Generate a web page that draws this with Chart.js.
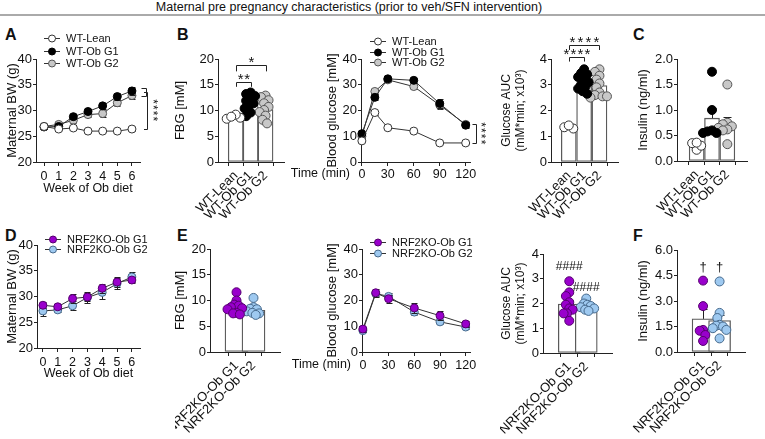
<!DOCTYPE html>
<html>
<head>
<meta charset="utf-8">
<script src="https://cdn.jsdelivr.net/npm/chart.js@4.4.1/dist/chart.umd.min.js"></script>
<style>
  body { margin: 0; background: #fff; }
  #fig { position: relative; width: 765px; height: 439px; overflow: hidden; font-family: "Liberation Sans", Arial, sans-serif; color: #111; }
  #fig canvas { position: absolute; }
  .letter { position: absolute; font-weight: bold; font-size: 16px; line-height: 16px; }
  #title { position: absolute; left: 0; width: 698px; top: 0; text-align: center; font-size: 12.5px; line-height: 14px; }
  #rule { position: absolute; left: 0; top: 14px; width: 765px; height: 2px; background: #aaa; }
</style>
</head>
<body>
<div id="fig">
  <div id="title">Maternal pre pregnancy characteristics (prior to veh/SFN intervention)</div>
  <div id="rule"></div>
  <div class="letter" style="left:5px;top:27px">A</div>
  <div class="letter" style="left:177px;top:27px">B</div>
  <div class="letter" style="left:633px;top:27px">C</div>
  <div class="letter" style="left:5px;top:228px">D</div>
  <div class="letter" style="left:177px;top:228px">E</div>
  <div class="letter" style="left:633px;top:228px">F</div>
</div>
<script>
const TXT = '#111', AX = '#222', LINE = '#333', BAR = '#5a5a5a';
const FONT = '"Liberation Sans", Arial, sans-serif';
Chart.defaults.font.family = FONT;
Chart.defaults.color = TXT;

// ---- body weight over the obesogenic diet (A, D) ----
const weeks = [0, 1, 2, 3, 4, 5, 6];
const bwWtLean    = [26.9, 26.4, 26.6, 26.0, 26.0, 26.0, 26.4];
const bwWtLeanSem = [0.3, 0.2, 0.2, 0.2, 0.2, 0.2, 0.3];
const bwWtObG1    = [26.8, 26.9, 28.8, 29.8, 30.9, 32.7, 33.8];
const bwWtObG1Sem = [0.4, 0.4, 0.5, 0.5, 0.6, 0.7, 0.8];
const bwWtObG2    = [26.9, 27.3, 28.1, 29.2, 29.4, 31.5, 32.9];
const bwWtObG2Sem = [0.4, 0.4, 0.5, 0.5, 0.6, 0.6, 0.6];
const bwNrfG1     = [28.3, 28.0, 29.6, 29.9, 31.6, 32.8, 33.2];
const bwNrfG1Sem  = [0.6, 0.5, 0.8, 0.8, 0.9, 0.9, 0.6];
const bwNrfG2     = [27.2, 27.4, 28.2, 29.8, 30.8, 32.5, 33.8];
const bwNrfG2Sem  = [1.0, 0.5, 0.9, 1.0, 1.3, 1.0, 1.0];

// ---- glucose tolerance test (B, E) ----
const gttTimes = [0, 15, 30, 60, 90, 120];
const gttTicks = [0, 30, 60, 90, 120];
const gttWtLean    = [8.2, 19.2, 13.3, 12.0, 7.4, 7.4];
const gttWtLeanSem = [0.3, 0.8, 0.6, 0.5, 0.3, 0.3];
const gttWtObG1    = [11.0, 25.1, 32.3, 31.7, 22.7, 14.3];
const gttWtObG1Sem = [0.6, 1.2, 0.7, 0.9, 1.6, 1.2];
const gttWtObG2    = [10.0, 27.4, 31.9, 29.3, 22.1, 14.6];
const gttWtObG2Sem = [0.5, 1.0, 0.8, 1.0, 1.4, 1.0];
const gttNrfG1     = [8.9, 23.0, 20.7, 17.1, 14.1, 10.9];
const gttNrfG1Sem  = [1.0, 1.5, 1.5, 1.8, 1.8, 1.1];
const gttNrfG2     = [8.3, 22.7, 21.6, 15.5, 11.7, 9.7];
const gttNrfG2Sem  = [0.6, 1.0, 1.2, 1.0, 0.8, 0.7];

// ---- group bar charts ----
const wtGroups  = ['WT-Lean', 'WT-Ob G1', 'WT-Ob G2'];
const nrfGroups = ['NRF2KO-Ob G1', 'NRF2KO-Ob G2'];

const fbgWtMean = [8.7, 11.4, 10.2];
const fbgWtSem  = [0.2, 0.45, 0.55];
const fbgWtLean = [8.4, 8.6, 9.2, 8.8];
const fbgWtObG1 = [13.5, 13.2, 12.8, 12.3, 11.9, 11.4, 11.0, 10.4, 9.6, 8.9];
const fbgWtObG2 = [12.9, 12.6, 12.0, 11.4, 10.7, 10.1, 9.7, 9.0, 8.2, 7.5];

const aucWtMean = [1.33, 3.06, 2.97];
const aucWtSem  = [0.04, 0.09, 0.12];
const aucWtLean = [1.3, 1.35, 1.42];
const aucWtObG1 = [3.6, 3.45, 3.4, 3.3, 3.2, 3.1, 3.0, 2.95, 2.85, 2.75, 2.65];
const aucWtObG2 = [3.6, 3.5, 3.35, 3.2, 3.05, 2.9, 2.7, 2.6, 2.55, 2.5, 2.55];

const insWtMean = [0.31, 0.84, 0.71];
const insWtSem  = [0.04, 0.19, 0.15];
const insWtLean = [0.22, 0.3, 0.35, 0.36];
const insWtObG1 = [1.75, 1.0, 0.6, 0.55, 0.55, 0.58];
const insWtObG2 = [1.5, 0.75, 0.72, 0.68, 0.65, 0.62, 0.6, 0.33];

const fbgNrfMean = [8.8, 8.1];
const fbgNrfSem  = [0.45, 0.35];
const fbgNrfG1 = [11.6, 10.0, 9.2, 9.0, 8.7, 8.5, 8.3, 7.6, 7.5, 7.3];
const fbgNrfG2 = [10.5, 8.7, 8.4, 8.3, 7.9, 7.6, 7.5, 7.2];

const aucNrfMean = [1.98, 1.86];
const aucNrfSem  = [0.15, 0.06];
const aucNrfG1 = [2.9, 2.45, 2.3, 2.05, 1.95, 1.8, 1.75, 1.6, 1.6, 1.3];
const aucNrfG2 = [2.2, 2.0, 1.95, 1.9, 1.85, 1.8, 1.75, 1.7];

const insNrfMean = [1.95, 1.85];
const insNrfSem  = [0.6, 0.35];
const insNrfG1 = [4.2, 2.7, 1.3, 1.25, 1.0, 0.65];
const insNrfG2 = [4.15, 2.3, 2.0, 1.6, 1.55, 1.5, 1.4, 1.3, 0.8];

// group colours
const C_LEAN = {fill: '#ffffff', stroke: '#333333'};
const C_OB1  = {fill: '#000000', stroke: '#000000'};
const C_OB2  = {fill: '#c8c8c8', stroke: '#555555'};
const C_NRF1 = {fill: '#9900cc', stroke: '#55006e'};
const C_NRF2 = {fill: '#9ec9f0', stroke: '#46698c'};

// ---- helpers ----
const errorBars = {
  id: 'errorBars',
  beforeDatasetDraw(chart, args) { drawErr(chart, args.index, false); },
  afterDatasetDraw(chart, args) { drawErr(chart, args.index, true); }
};

function drawErr(chart, i, afterBar) {
  const ds = chart.data.datasets[i];
  if (!ds.sem || (ds.type === 'bar') !== afterBar) return;
  const ctx = chart.ctx, xs = chart.scales.x, ys = chart.scales.y;
  ctx.save();
  ctx.strokeStyle = AX;
  ctx.lineWidth = 1;
  ds.data.forEach((d, k) => {
    const px = Math.round(xs.getPixelForValue(d.x)) + 0.5;
    const hi = Math.round(ys.getPixelForValue(d.y + ds.sem[k])) + 0.5;
    const lo = afterBar ? ys.getPixelForValue(d.y) : Math.round(ys.getPixelForValue(d.y - ds.sem[k])) + 0.5;
    const cap = afterBar ? 4 : 3;
    ctx.beginPath();
    ctx.moveTo(px, hi); ctx.lineTo(px, lo);
    ctx.moveTo(px - cap, hi); ctx.lineTo(px + cap, hi);
    if (!afterBar) { ctx.moveTo(px - cap, lo); ctx.lineTo(px + cap, lo); }
    ctx.stroke();
  });
  ctx.restore();
}

function spaced(ctx, text, cx, cy, size, step, rot) {
  ctx.save();
  ctx.translate(cx, cy);
  ctx.rotate(rot || 0);
  ctx.font = size + 'px ' + FONT;
  ctx.fillStyle = TXT;
  ctx.textAlign = 'center';
  ctx.textBaseline = 'middle';
  const n = text.length;
  for (let i = 0; i < n; i++) ctx.fillText(text[i], (i - (n - 1) / 2) * step, 0);
  ctx.restore();
}

function annot(p) {
  return {
    id: 'annot',
    afterDraw(chart) {
      const {ctx, chartArea: a} = chart;
      const X = v => chart.scales.x.getPixelForValue(v);
      const Y = v => chart.scales.y.getPixelForValue(v);
      ctx.save();
      ctx.lineWidth = 1;
      ctx.strokeStyle = AX;
      (p.brackets || []).forEach(b => {
        const x1 = Math.round(X(b.a)) + 0.5, x2 = Math.round(X(b.b)) + 0.5;
        const yt = Math.round(Y(b.y)) + 0.5, yl = Y(b.leg);
        ctx.beginPath();
        ctx.moveTo(x1, yl); ctx.lineTo(x1, yt); ctx.lineTo(x2, yt); ctx.lineTo(x2, yl);
        ctx.stroke();
        spaced(ctx, b.text, (x1 + x2) / 2, yt - 2.5, 15, b.step || 6.5);
      });
      (p.side || []).forEach(s => {
        const x0 = a.right + s.x0, x1 = Math.round(a.right + s.x1) + 0.5;
        const y1 = Math.round(Y(s.y1)) + 0.5, y2 = Math.round(Y(s.y2)) + 0.5;
        ctx.beginPath();
        ctx.moveTo(x0, y1); ctx.lineTo(x1, y1); ctx.lineTo(x1, y2); ctx.lineTo(x0, y2);
        ctx.stroke();
      });
      if (p.sideText) {
        const t = p.sideText;
        spaced(ctx, t.text, a.right + t.dx, Y(t.y), t.size, t.step, Math.PI / 2);
      }
      (p.texts || []).forEach(t => spaced(ctx, t.text, X(t.x), Y(t.y), t.size, t.step));
      if (p.timeLabel) {
        ctx.font = '12.5px ' + FONT;
        ctx.fillStyle = TXT;
        ctx.textAlign = 'right';
        ctx.textBaseline = 'middle';
        ctx.fillText('Time (min)', a.left + p.timeLabel.dx, a.bottom + p.timeLabel.dy);
      }
      if (p.legend) {
        const lg = p.legend;
        ctx.font = '11px ' + FONT;
        ctx.textBaseline = 'middle';
        ctx.textAlign = 'left';
        p.series.forEach((s, k) => {
          const x = a.left + lg.dx, y = Math.round(a.top + lg.dy + k * lg.rowH) + 0.5;
          ctx.strokeStyle = LINE;
          ctx.beginPath(); ctx.moveTo(x - 8, y); ctx.lineTo(x + 8, y); ctx.stroke();
          ctx.beginPath(); ctx.arc(x, y, 3.5, 0, Math.PI * 2);
          ctx.fillStyle = s.color.fill; ctx.fill();
          ctx.strokeStyle = s.color.stroke; ctx.stroke();
          ctx.fillStyle = TXT;
          ctx.fillText(s.label, x + 14, y);
        });
      }
      ctx.restore();
    }
  };
}

// spread the dots of one group sideways so they do not pile up
function swarm(vals, center, p, r) {
  const pxX = (p.area.r - p.area.l) / (p.xMax - p.xMin);
  const pxY = (p.area.b - p.area.t) / (p.yMax - p.yMin);
  const placed = [], out = [];
  const idx = vals.map((v, i) => i).sort((a, b) => vals[b] - vals[a]);
  idx.forEach(i => {
    const yp = vals[i] * pxY;
    let off = 0;
    for (let k = 0; k < 40; k++) {
      const cand = (k % 2 ? -1 : 1) * Math.ceil(k / 2) * r * 0.5;
      if (placed.every(q => Math.hypot(q.x - cand, q.y - yp) >= r * 1.3)) { off = cand; break; }
    }
    placed.push({x: off, y: yp});
    out[i] = {x: center + off / pxX, y: vals[i]};
  });
  return out;
}

function axisBase() {
  return {
    type: 'linear',
    bounds: 'data',
    grid: {drawOnChartArea: false, drawTicks: true, tickLength: 4, color: AX, lineWidth: 1},
    border: {display: true, color: AX, width: 1}
  };
}

function makePanel(p, datasets) {
  const c = document.createElement('canvas');
  const w = p.canvas.r - p.canvas.l, h = p.canvas.b - p.canvas.t;
  c.width = w; c.height = h;
  Object.assign(c.style, {left: p.canvas.l + 'px', top: p.canvas.t + 'px', width: w + 'px', height: h + 'px'});
  if (p.clipLeft) c.style.clipPath = 'inset(0 0 0 ' + p.clipLeft + 'px)';
  document.getElementById('fig').appendChild(c);

  const yw = p.area.l - p.canvas.l, xh = p.canvas.b - p.area.b;
  const ySize = p.yTitleSize || 13, yLh = ySize * 1.15;
  const xLh = 12.5 * 1.15;

  const x = Object.assign(axisBase(), {
    min: p.xMin, max: p.xMax,
    afterBuildTicks: s => { s.ticks = p.xTicks.map(v => ({value: v})); },
    ticks: {
      font: {size: p.cats ? 13 : 12.5}, color: TXT, padding: p.xTickPad, autoSkip: false,
      minRotation: p.rot || 0, maxRotation: p.rot || 0,
      callback: p.cats ? (v => p.cats[v]) : (v => v)
    },
    title: p.xTitle ? {display: true, text: p.xTitle, color: TXT, font: {size: 12.5, lineHeight: 1.15},
      padding: {top: 0, bottom: p.canvas.b - p.xTitleY - xLh / 2}} : {display: false},
    afterFit: s => { s.height = xh; s.paddingLeft = 0; s.paddingRight = 0; }
  });
  const y = Object.assign(axisBase(), {
    min: p.yMin, max: p.yMax,
    afterBuildTicks: s => { s.ticks = p.yTicks.map(v => ({value: v})); },
    ticks: {font: {size: 13}, color: TXT, padding: 1, callback: p.yFmt || (v => v)},
    title: {display: true, text: p.yTitle, color: TXT, font: {size: ySize, lineHeight: 1.15},
      padding: {top: p.yTitleX - p.canvas.l - yLh / 2, bottom: 0}},
    afterFit: s => { s.width = yw; s.paddingTop = 0; s.paddingBottom = 0; }
  });
  y.grid.tickLength = 3;

  new Chart(c, {
    type: 'scatter',
    data: {datasets},
    options: {
      responsive: false,
      animation: false,
      events: [],
      layout: {autoPadding: false, padding: {left: 0, top: p.area.t - p.canvas.t, right: p.canvas.r - p.area.r, bottom: 0}},
      plugins: {legend: {display: false}, tooltip: {enabled: false}},
      scales: {x, y}
    },
    plugins: [errorBars, annot(p)]
  });
}

function linePanel(p) {
  const datasets = p.series.map(s => ({
    data: s.xs.map((v, i) => ({x: v, y: s.ys[i]})),
    sem: s.sem,
    showLine: true,
    borderColor: LINE,
    borderWidth: 1,
    backgroundColor: s.color.fill,
    pointRadius: 4,
    pointBackgroundColor: s.color.fill,
    pointBorderColor: s.color.stroke,
    pointBorderWidth: 1,
    clip: false
  }));
  makePanel(p, datasets);
}

function barPanel(p) {
  p.xTicks = p.cats.map((c, i) => i);
  p.rot = 45;
  const datasets = p.groups.map((g, i) => ({
    data: swarm(g.pts, i, p, 4.5),
    backgroundColor: g.color.fill,
    borderColor: g.color.stroke,
    borderWidth: 1,
    pointRadius: 4.5,
    clip: false,
    order: 1
  }));
  datasets.push({
    type: 'bar',
    data: p.means.map((m, i) => ({x: i, y: m})),
    sem: p.sems,
    backgroundColor: '#ffffff',
    borderColor: BAR,
    borderWidth: 1.3,
    borderSkipped: false,
    barThickness: p.barW,
    grouped: false,
    clip: false,
    order: 2
  });
  makePanel(p, datasets);
}

// ---- A ----
linePanel({
  area: {l: 36, t: 59, r: 140, b: 162}, canvas: {l: 0, t: 26, r: 172, b: 200},
  xMin: -0.55, xMax: 6.55, xTicks: weeks, xTickPad: 3, xTitle: 'Week of Ob diet', xTitleY: 189,
  yMin: 20, yMax: 40, yTicks: [20, 25, 30, 35, 40], yTitle: 'Maternal BW (g)', yTitleX: 12,
  series: [
    {label: 'WT-Lean', xs: weeks, ys: bwWtLean, sem: bwWtLeanSem, color: C_LEAN},
    {label: 'WT-Ob G1', xs: weeks, ys: bwWtObG1, sem: bwWtObG1Sem, color: C_OB1},
    {label: 'WT-Ob G2', xs: weeks, ys: bwWtObG2, sem: bwWtObG2Sem, color: C_OB2}
  ],
  legend: {dx: 16, dy: -20.7, rowH: 12.3},
  side: [{x0: 1.5, x1: 5.5, y1: 34.3, y2: 32.9}, {x0: 4, x1: 7, y1: 33.6, y2: 26.5}],
  sideText: {dx: 12.5, y: 30.05, text: '****', size: 12, step: 5.8}
});

// ---- B: FBG ----
barPanel({
  area: {l: 218, t: 59, r: 284, b: 162}, canvas: {l: 170, t: 36, r: 300, b: 232},
  cats: wtGroups, xMin: -0.45, xMax: 2.5, xTickPad: 2, barW: 15,
  yMin: 0, yMax: 20, yTicks: [0, 5, 10, 15, 20], yTitle: 'FBG [mM]', yTitleX: 180,
  means: fbgWtMean, sems: fbgWtSem,
  groups: [{pts: fbgWtLean, color: C_LEAN}, {pts: fbgWtObG1, color: C_OB1}, {pts: fbgWtObG2, color: C_OB2}],
  brackets: [{a: 0, b: 1, y: 15.6, leg: 14.6, text: '**'}, {a: 0, b: 2, y: 18.75, leg: 17.6, text: '*'}]
});

// ---- B: GTT ----
linePanel({
  area: {l: 361, t: 59, r: 470, b: 162}, canvas: {l: 285, t: 30, r: 492, b: 200},
  xMin: -1, xMax: 125, xTicks: gttTicks, xTickPad: 1.5,
  yMin: 0, yMax: 40, yTicks: [0, 10, 20, 30, 40], yTitle: 'Blood glucose [mM]', yTitleX: 332,
  series: [
    {label: 'WT-Lean', xs: gttTimes, ys: gttWtLean, sem: gttWtLeanSem, color: C_LEAN},
    {label: 'WT-Ob G1', xs: gttTimes, ys: gttWtObG1, sem: gttWtObG1Sem, color: C_OB1},
    {label: 'WT-Ob G2', xs: gttTimes, ys: gttWtObG2, sem: gttWtObG2Sem, color: C_OB2}
  ],
  legend: {dx: 17, dy: -18.3, rowH: 10.8},
  timeLabel: {dx: -11, dy: 11.5},
  side: [{x0: 2.5, x1: 6, y1: 14.8, y2: 7.5}],
  sideText: {dx: 10.5, y: 11.15, text: '****', size: 12, step: 5.8}
});

// ---- B: glucose AUC ----
barPanel({
  area: {l: 551, t: 59, r: 618, b: 162}, canvas: {l: 498, t: 30, r: 628, b: 232},
  cats: wtGroups, xMin: -0.43, xMax: 2.48, xTickPad: 2, barW: 15,
  yMin: 0, yMax: 4, yTicks: [0, 1, 2, 3, 4], yTitle: ['Glucose AUC', '(mM*min; x10³)'], yTitleX: 507, yTitleSize: 12,
  means: aucWtMean, sems: aucWtSem,
  groups: [{pts: aucWtLean, color: C_LEAN}, {pts: aucWtObG1, color: C_OB1}, {pts: aucWtObG2, color: C_OB2}],
  brackets: [{a: 0, b: 1, y: 4.09, leg: 3.9, text: '****', step: 7}, {a: 0, b: 2, y: 4.55, leg: 4.35, text: '****', step: 8}]
});

// ---- C: insulin ----
barPanel({
  area: {l: 677, t: 59, r: 747, b: 161}, canvas: {l: 625, t: 36, r: 765, b: 232},
  cats: wtGroups, xMin: -0.52, xMax: 2.52, xTickPad: 2, barW: 15,
  yMin: 0, yMax: 2, yTicks: [0, 0.5, 1, 1.5, 2], yFmt: v => v.toFixed(1), yTitle: 'Insulin (ng/ml)', yTitleX: 643,
  means: insWtMean, sems: insWtSem,
  groups: [{pts: insWtLean, color: C_LEAN}, {pts: insWtObG1, color: C_OB1}, {pts: insWtObG2, color: C_OB2}]
});

// ---- D ----
linePanel({
  area: {l: 37, t: 245, r: 140, b: 348}, canvas: {l: 0, t: 226, r: 172, b: 392},
  xMin: -0.4, xMax: 6.55, xTicks: weeks, xTickPad: 3, xTitle: 'Week of Ob diet', xTitleY: 374,
  yMin: 20, yMax: 40, yTicks: [20, 25, 30, 35, 40], yTitle: 'Maternal BW (g)', yTitleX: 12,
  series: [
    {label: 'NRF2KO-Ob G1', xs: weeks, ys: bwNrfG1, sem: bwNrfG1Sem, color: C_NRF1},
    {label: 'NRF2KO-Ob G2', xs: weeks, ys: bwNrfG2, sem: bwNrfG2Sem, color: C_NRF2}
  ],
  legend: {dx: 16, dy: -6, rowH: 10}
});

// ---- E: FBG ----
barPanel({
  area: {l: 210, t: 249, r: 280, b: 352}, canvas: {l: 172, t: 228, r: 300, b: 439}, clipLeft: 3,
  cats: nrfGroups, xMin: -0.53, xMax: 1.53, xTickPad: 2, barW: 23,
  yMin: 0, yMax: 20, yTicks: [0, 5, 10, 15, 20], yTitle: 'FBG [mM]', yTitleX: 180,
  means: fbgNrfMean, sems: fbgNrfSem,
  groups: [{pts: fbgNrfG1, color: C_NRF1}, {pts: fbgNrfG2, color: C_NRF2}]
});

// ---- E: GTT ----
linePanel({
  area: {l: 362, t: 249, r: 470, b: 352}, canvas: {l: 285, t: 228, r: 492, b: 392},
  xMin: -1, xMax: 125, xTicks: gttTicks, xTickPad: 2.5,
  yMin: 0, yMax: 40, yTicks: [0, 10, 20, 30, 40], yTitle: 'Blood glucose [mM]', yTitleX: 332,
  series: [
    {label: 'NRF2KO-Ob G1', xs: gttTimes, ys: gttNrfG1, sem: gttNrfG1Sem, color: C_NRF1},
    {label: 'NRF2KO-Ob G2', xs: gttTimes, ys: gttNrfG2, sem: gttNrfG2Sem, color: C_NRF2}
  ],
  legend: {dx: 16, dy: -6.7, rowH: 11},
  timeLabel: {dx: -11, dy: 13}
});

// ---- E: glucose AUC ----
barPanel({
  area: {l: 543, t: 254, r: 612, b: 353}, canvas: {l: 498, t: 235, r: 628, b: 439}, clipLeft: 2,
  cats: nrfGroups, xMin: -0.53, xMax: 1.5, xTickPad: 2, barW: 22,
  yMin: 0, yMax: 4, yTicks: [0, 1, 2, 3, 4], yTitle: ['Glucose AUC', '(mM*min; x10³)'], yTitleX: 507, yTitleSize: 12,
  means: aucNrfMean, sems: aucNrfSem,
  groups: [{pts: aucNrfG1, color: C_NRF1}, {pts: aucNrfG2, color: C_NRF2}],
  texts: [{x: 0, y: 3.47, text: '####', size: 12, step: 6.8}, {x: 1, y: 2.63, text: '####', size: 12, step: 6.8}]
});

// ---- F: insulin ----
barPanel({
  area: {l: 677, t: 250, r: 745, b: 352}, canvas: {l: 615, t: 235, r: 765, b: 439},
  cats: nrfGroups, xMin: -0.55, xMax: 1.51, xTickPad: 2, barW: 22,
  yMin: 0, yMax: 6, yTicks: [0, 1.5, 3, 4.5, 6], yFmt: v => v.toFixed(1), yTitle: 'Insulin (ng/ml)', yTitleX: 643,
  means: insNrfMean, sems: insNrfSem,
  groups: [{pts: insNrfG1, color: C_NRF1}, {pts: insNrfG2, color: C_NRF2}],
  texts: [{x: 0, y: 5.0, text: '†', size: 13, step: 0}, {x: 1, y: 5.0, text: '†', size: 13, step: 0}]
});
</script>
</body>
</html>
